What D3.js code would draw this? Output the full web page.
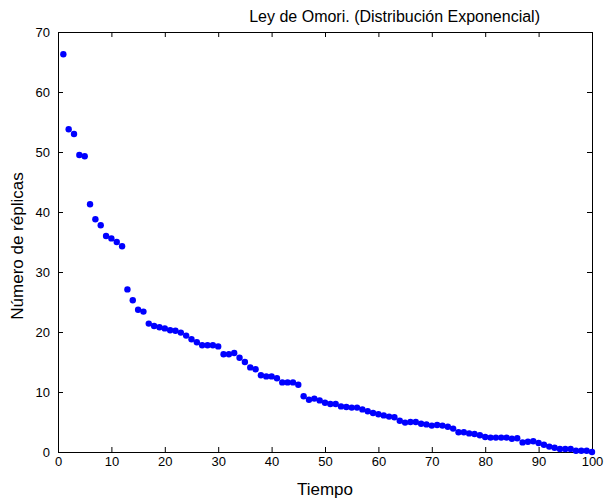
<!DOCTYPE html>
<html>
<head>
<meta charset="utf-8">
<script src="https://cdn.jsdelivr.net/npm/d3@7"></script>
<style>
  body { margin: 0; background: #fff; }
  text { font-family: "Liberation Sans", Arial, sans-serif; fill: #000; }
  .axis path, .axis line { stroke: #000; }
  .axis text { font-size: 13px; }
</style>
</head>
<body>
<div id="chart"></div>
<script>
"use strict"

// Tiempo (1..100) and número de réplicas
const tiempo = d3.range(1, 101);
const replicas = [
	66.3, 53.8, 53.0, 49.5, 49.3, 41.3, 38.8, 37.8, 36.0, 35.6,
	35.0, 34.3, 27.1, 25.3, 23.7, 23.4, 21.4, 21.0, 20.8, 20.6,
	20.3, 20.2, 19.9, 19.4, 18.8, 18.3, 17.8, 17.8, 17.8, 17.6,
	16.3, 16.3, 16.5, 15.7, 15.0, 14.1, 13.8, 12.8, 12.6, 12.6,
	12.3, 11.6, 11.6, 11.6, 11.2, 9.3, 8.7, 8.9, 8.6, 8.2,
	8.0, 8.0, 7.6, 7.5, 7.4, 7.4, 7.1, 6.8, 6.5, 6.3,
	6.1, 5.9, 5.8, 5.2, 4.9, 5.0, 5.0, 4.7, 4.6, 4.4,
	4.5, 4.4, 4.2, 3.9, 3.3, 3.3, 3.1, 3.0, 2.8, 2.5,
	2.4, 2.4, 2.4, 2.4, 2.2, 2.3, 1.6, 1.7, 1.8, 1.5,
	1.2, 0.9, 0.7, 0.5, 0.5, 0.5, 0.2, 0.2, 0.2, 0.0
];
const xTicks = d3.range(0, 101, 10);
const yTicks = d3.range(0, 71, 10);

const totalWidth = 605, totalHeight = 501;
const margin = { left: 58, right: 13, top: 32, bottom: 49 };
const width = totalWidth - margin.left - margin.right;
const height = totalHeight - margin.top - margin.bottom;

const svg = d3.select("#chart").append("svg")
	.attr("width", totalWidth)
	.attr("height", totalHeight);

const g = svg.append("g")
	.attr("transform", `translate(${margin.left},${margin.top})`);

const xScale = d3.scaleLinear().domain([0, 100]).range([0, width]);
const yScale = d3.scaleLinear().domain([0, 70]).range([height, 0]);

// bottom / left axes with labels, ticks pointing inward
g.append("g")
	.attr("class", "axis x")
	.attr("transform", `translate(0,${height})`)
	.call(d3.axisBottom(xScale).tickValues(xTicks).tickSizeInner(-5).tickSizeOuter(0).tickPadding(8));

g.append("g")
	.attr("class", "axis y")
	.call(d3.axisLeft(yScale).tickValues(yTicks).tickSizeInner(-5).tickSizeOuter(0).tickPadding(8));

// top / right axes, ticks only (box)
g.append("g")
	.attr("class", "axis x2")
	.call(d3.axisTop(xScale).tickValues(xTicks).tickSizeInner(-5).tickSizeOuter(0).tickFormat(""));

g.append("g")
	.attr("class", "axis y2")
	.attr("transform", `translate(${width},0)`)
	.call(d3.axisRight(yScale).tickValues(yTicks).tickSizeInner(-5).tickSizeOuter(0).tickFormat(""));

g.selectAll(".axis.x text").attr("dy", "0.45em");

// points
g.append("g").selectAll("circle")
	.data(tiempo)
	.enter().append("circle")
		.attr("cx", (d) => xScale(d))
		.attr("cy", (d, i) => yScale(replicas[i]))
		.attr("r", 3.2)
		.style("fill", "#0000ff");

// title and axis labels
svg.append("text")
	.attr("x", 540)
	.attr("y", 22)
	.attr("text-anchor", "end")
	.style("font-size", "16px")
	.text("Ley de Omori. (Distribución Exponencial)");

svg.append("text")
	.attr("x", margin.left + width / 2)
	.attr("y", 495)
	.attr("text-anchor", "middle")
	.style("font-size", "17px")
	.text("Tiempo");

svg.append("text")
	.attr("transform", `translate(23,${margin.top + height / 2 + 4})rotate(-90)`)
	.attr("text-anchor", "middle")
	.style("font-size", "17px")
	.text("Número de réplicas");
</script>
</body>
</html>
